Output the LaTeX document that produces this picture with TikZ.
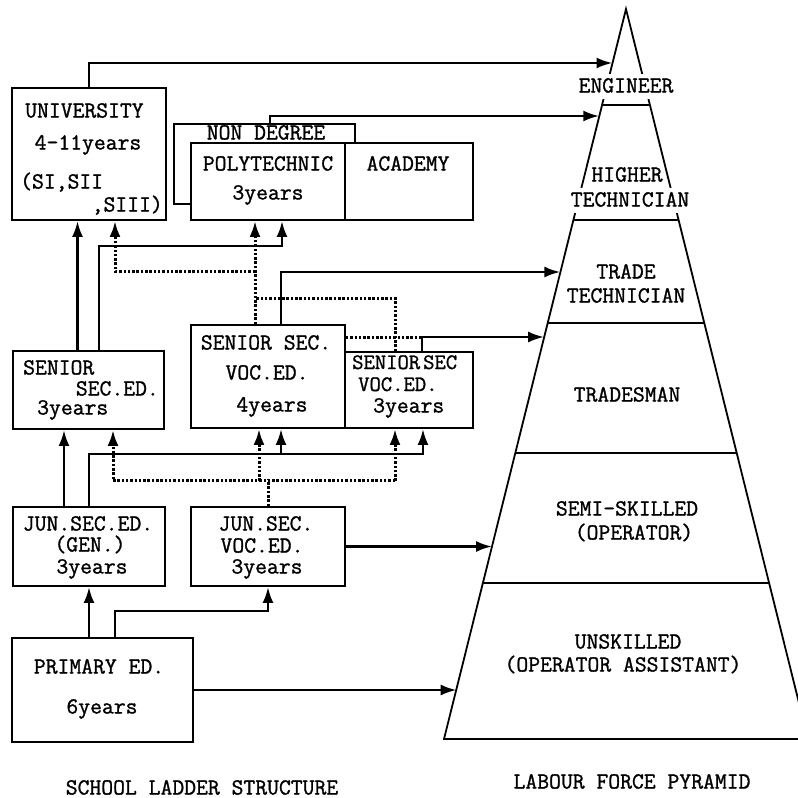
\documentclass[tikz,border=0pt]{standalone}
\usepackage{fontspec}
\newfontfamily\tw{Latin Modern Mono}[FakeBold=1.2]
\usetikzlibrary{arrows.meta,calc}
\begin{document}
\begin{tikzpicture}[x=1pt,y=-1pt,
  box/.style={draw,line width=1.8pt,inner sep=0pt},
  lbl/.style={inner sep=0pt,font=\tw\fontsize{23}{25}\selectfont,text height=13pt,text depth=0pt},
  slbl/.style={lbl,font=\tw\fontsize{22}{24}\selectfont,text height=12pt},
  plbl/.style={lbl,fill=white,inner xsep=1pt,inner ysep=6pt},
  conn/.style={line width=2.7pt},
  dotc/.style={line width=3pt,dash pattern=on 2.5pt off 1.8pt},
  arr/.style={-{Latex[length=16pt,width=11pt]}},
  pyr/.style={line width=1.8pt}]
\useasboundingbox (0,0) rectangle (798,798);
\clip (0,0) rectangle (798,798);
\fill[white] (0,0) rectangle (798,798);

% ---------- school boxes ----------
\node[box,minimum width=154pt,minimum height=132pt] (univ) at (89,154) {};
\node[box,minimum width=154pt,minimum height=77pt] (poly) at (268,181.5) {};
\node[box,minimum width=128pt,minimum height=77pt] (acad) at (409,181.5) {};
\node[box,minimum width=151pt,minimum height=78pt] (sse) at (88.5,390) {};
\node[box,minimum width=154pt,minimum height=103pt] (sv4) at (268,376.5) {};
\node[box,minimum width=128pt,minimum height=76pt] (sv3) at (409,390) {};
\node[box,minimum width=152pt,minimum height=79pt] (jse) at (89,546.5) {};
\node[box,minimum width=154pt,minimum height=79pt] (jsv) at (268,546.5) {};
\node[box,minimum width=181pt,minimum height=104pt] (prim) at (102.5,690) {};

% non degree frame
\draw[line width=1.8pt] ([yshift=17pt]poly.south west) -- ++(-16,0) |- (355,124) -- (poly.north -| 355,0);
\coordinate (ndtop) at (270,124);

% ---------- texts in boxes ----------
\node[lbl,anchor=west] (u1) at (25,111) {UNIVERSITY};
\node[lbl] (u2) at (88,143) {4-11years};
\node[lbl,anchor=west] (u3) at (20,182) {(SI,SII};
\node[lbl,anchor=east] (u4) at (163,205) {,SIII)};
\node[lbl] (nd) at (266,133) {NON DEGREE};
\node[lbl] (p1) at (268,164) {POLYTECHNIC};
\node[lbl] (p2) at (268,193) {3years};
\node[lbl] (a1) at (408,164) {ACADEMY};
\node[lbl,anchor=west] (s1) at (23,368) {SENIOR};
\node[lbl,anchor=east] (s2) at (159,389) {SEC.ED.};
\node[lbl,anchor=west] (s3) at (37,408) {3years};
\node[lbl] (v1) at (266,343) {SENIOR SEC.};
\node[lbl] (v2) at (267,373) {VOC.ED.};
\node[lbl] (v3) at (272,405) {4years};
\node[slbl,anchor=west] (w1) at (352,363) {\spaceskip=3pt SENIOR SEC};
\node[slbl,anchor=west] (w2) at (358,385) {VOC.ED.};
\node[lbl,anchor=west] (w3) at (373,406) {3years};
\node[lbl] (j1) at (88,524) {JUN.SEC.ED.};
\node[lbl] (j2) at (90,545) {(GEN.)};
\node[lbl] (j3) at (92,567) {3years};
\node[lbl] (k1) at (266,524) {JUN.SEC.};
\node[lbl] (k2) at (262,546) {VOC.ED.};
\node[lbl] (k3) at (267,567) {3years};
\node[lbl] (r1) at (99,667) {PRIMARY ED.};
\node[lbl] (r2) at (102,707) {6years};
\node[lbl] (cap1) at (202,788) {SCHOOL LADDER STRUCTURE};

% ---------- pyramid ----------
\coordinate (apex) at (626,9);
\coordinate (bl) at (444,739);
\coordinate (br) at (808,739);
\draw[pyr] (bl) -- (apex) -- (br) -- cycle;
\foreach \t in {96,211,314,444,574}
  \draw[pyr] ($(apex)!\t/730!(bl)$) -- ($(apex)!\t/730!(br)$);
\coordinate (pE)  at ($(apex)!54/730!(bl)$);
\coordinate (pHT) at ($(apex)!107/730!(bl)$);
\coordinate (pTT) at ($(apex)!263/730!(bl)$);
\coordinate (pTM) at ($(apex)!328/730!(bl)$);
\coordinate (pSS) at ($(apex)!537/730!(bl)$);
\coordinate (pUS) at ($(apex)!679/730!(bl)$);

\node[plbl] (eng) at (626,86) {ENGINEER};
\node[lbl,fill=white,inner sep=1pt] (ht1) at (627,175) {HIGHER};
\node[plbl] (ht2) at (630,200) {TECHNICIAN};
\node[lbl] (tt1) at (626,272) {TRADE};
\node[lbl] (tt2) at (626,296) {TECHNICIAN};
\node[lbl] (tm) at (627,395) {TRADESMAN};
\node[lbl] (ss1) at (627,509) {SEMI-SKILLED};
\node[lbl] (ss2) at (634,533) {(OPERATOR)};
\node[lbl] (us1) at (628,642) {UNSKILLED};
\node[lbl] (us2) at (623,665) {(OPERATOR ASSISTANT)};
\node[lbl] (cap2) at (632,782) {LABOUR FORCE PYRAMID};

% ---------- connectors to pyramid ----------
\draw[conn,arr] (univ.north) |- (pE);
\draw[conn,arr] (ndtop) |- (pHT);
\draw[conn,arr] ([xshift=13pt]sv4.north) |- (pTT);
\draw[conn,arr] ([xshift=13pt]sv3.north) |- (pTM);
\draw[dotc] (sv4.east |- pTM) -- ([xshift=13pt]sv3.north |- pTM);
\draw[conn,arr] (jsv.east) -- (jsv.east -| pSS);
\draw[conn,arr] (prim.east) -- (prim.east -| pUS);

% ---------- upper ladder ----------
\draw[conn,arr] ([xshift=-11pt]sse.north) -- ([xshift=-11pt]sse.north |- univ.south);
\draw[conn,arr] ([xshift=10.5pt]sse.north) |- ($(poly.south)+(14,25)$) -- ([xshift=14pt]poly.south);
\draw[dotc,arr] ([xshift=-13pt]sv4.north) -- ([xshift=-13pt]poly.south);
\draw[dotc,arr] ($(sv4.north)+(-13,-53)$) -| ([xshift=26pt]univ.south);
\draw[dotc] ([xshift=-14pt]sv3.north) |- ($(sv4.north)+(-13,-26)$);

% ---------- lower ladder ----------
\draw[conn,arr] (prim.north -| jse.south) -- (jse.south);
\draw[conn,arr] ([xshift=12.5pt]prim.north) |- ($(jsv.south)+(0,24)$) -- (jsv.south);
\draw[conn,arr] ([xshift=-25pt]jse.north) -- ([xshift=-25pt]jse.north |- sse.south);
\draw[conn,arr] (jse.north) |- ($(sv3.south)+(14,25)$) -- ([xshift=14pt]sv3.south);
\draw[conn,arr] ($(sv4.south)+(13,25)$) -- ([xshift=13pt]sv4.south);
\draw[dotc] (jsv.north) -- ($(jsv.north)+(0,-27)$);
\draw[dotc,arr] ($(sv3.south)+(-14,52)$) -| ([xshift=24.5pt]sse.south);
\draw[dotc,arr] ($(sv3.south)+(-14,52)$) -- ([xshift=-14pt]sv3.south);
\draw[dotc,arr] ($(sv4.south)+(-9,52)$) -- ([xshift=-9pt]sv4.south);
\end{tikzpicture}
\end{document}
